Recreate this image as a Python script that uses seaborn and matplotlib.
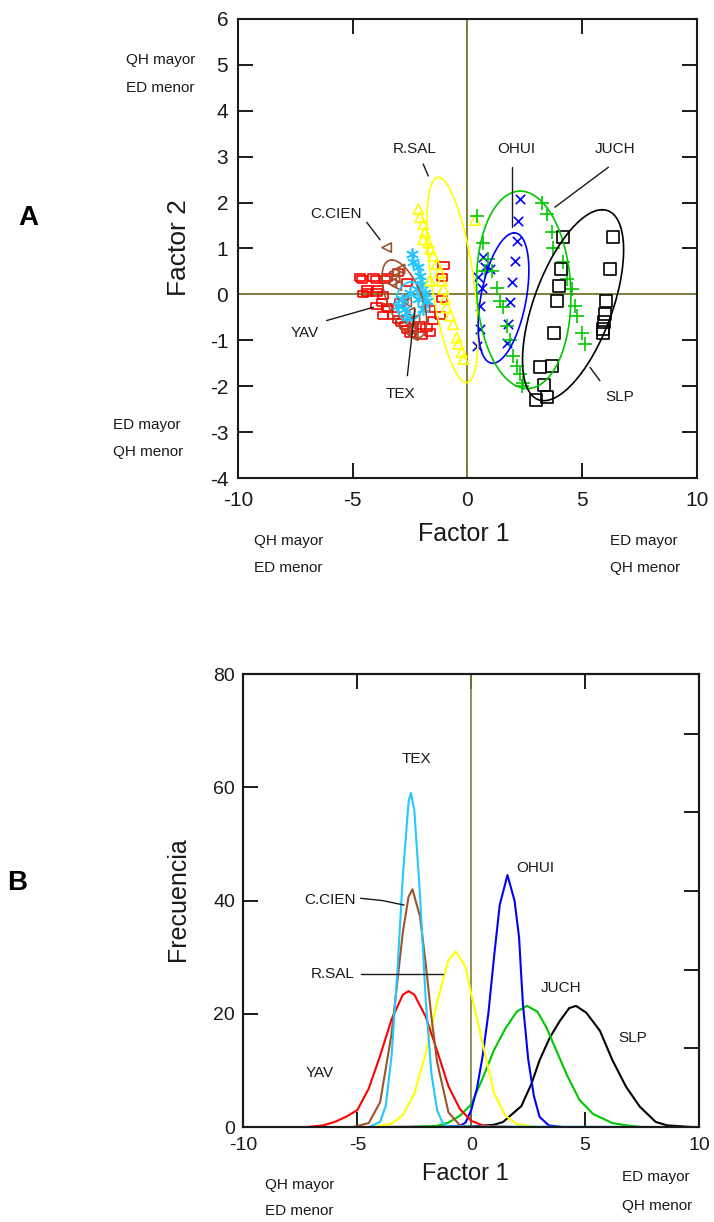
import numpy as np
import matplotlib
matplotlib.use('Agg')
import matplotlib.pyplot as plt
from matplotlib import font_manager as fm
import seaborn as sns


# ---- Panel A: factor scores per population (Factor 1, Factor 2) ----
yav_x = [-4.68, -4.39, -3.96, -3.89, -3.52, -4.54, -3.67, -3.96, -3.52, -3.23, -2.87, -2.65, -2.94,
         -4.61, -4.10, -3.59, -4.39, -3.96, -3.74, -3.45, -3.67, -3.02, -2.72, -2.36, -2.07, -1.78,
         -1.49, -1.20, -1.12, -1.05, -1.12, -1.63, -1.63, -2.00, -2.51, -3.02, -2.65]
yav_y = [0.37, 0.12, 0.33, 0.12, 0.37, 0.01, -0.03, -0.25, -0.29, -0.46, -0.61, -0.76, -0.17,
         0.33, 0.37, 0.33, 0.04, 0.04, -0.17, -0.32, -0.46, -0.54, -0.68, -0.72, -0.68, -0.72,
         -0.57, -0.46, -0.10, 0.63, 0.37, -0.32, -0.83, -0.90, -0.86, 0.48, 0.26]

cien_x = [-3.52, -3.16, -3.08, -2.94, -3.20, -2.65, -2.51, -2.29, -2.43, -2.36, -2.80, -1.85, -3.30, -2.60]
cien_y = [1.02, 0.37, 0.19, 0.55, 0.48, -0.17, -0.39, -0.54, -0.76, -0.90, -0.10, -0.28, 0.25, -0.60]

tex_x = [-2.43, -2.36, -2.14, -2.07, -2.00, -2.21, -1.85, -1.78, -2.87, -2.72, -2.65, -1.93, -2.14, -3.02, -2.51]
tex_y = [0.88, 0.70, 0.59, 0.41, 0.22, 0.12, 0.04, -0.14, -0.10, -0.32, -0.50, -0.32, -0.10, -0.25, 0.04]

rsal_x = [-2.14, -2.07, -1.93, -1.85, -1.93, -1.71, -1.63, -1.49, -1.34, -1.20, -1.12, -1.05, -0.98,
          -0.91, -0.76, -0.62, -0.47, -0.40, -0.25, -0.18, -1.63, 0.33]
rsal_y = [1.86, 1.68, 1.53, 1.35, 1.20, 1.13, 0.99, 0.84, 0.66, 0.48, 0.30, 0.12, -0.10,
          -0.28, -0.46, -0.65, -0.94, -1.08, -1.26, -1.41, 0.30, 1.62]

ohui_x = [2.29, 2.21, 2.14, 2.07, 1.93, 1.85, 1.78, 1.71, 0.76, 0.62, 0.54, 0.54, 0.40, 0.98, 0.46, 0.68]
ohui_y = [2.08, 1.60, 1.17, 0.73, 0.26, -0.17, -0.65, -1.05, 0.59, 0.15, -0.25, -0.76, -1.12, 0.55, 0.37, 0.81]

juch_x = [3.23, 3.45, 3.67, 3.74, 4.18, 4.32, 4.54, 4.68, 4.76, 4.98, 5.12, 0.69, 0.91, 1.05, 1.27,
          1.42, 1.56, 1.71, 2.00, 2.14, 2.29, 2.43, 2.36, 0.40, 0.76, 1.85]
juch_y = [2.00, 1.75, 1.35, 1.02, 0.70, 0.33, 0.12, -0.25, -0.46, -0.83, -1.08, 1.13, 0.77, 0.52, 0.15,
          -0.14, -0.28, -0.68, -1.34, -1.55, -1.74, -1.92, -1.99, 1.71, 0.52, -1.00]

slp_x = [4.17, 6.33, 6.21, 4.06, 4.00, 3.91, 6.04, 6.00, 5.96, 5.92, 3.77, 3.16, 3.67, 3.33, 3.48, 2.97, 5.90]
slp_y = [1.24, 1.24, 0.55, 0.55, 0.19, -0.15, -0.15, -0.43, -0.60, -0.76, -0.85, -1.59, -1.55, -1.97,
         -2.24, -2.29, -0.83]

# ellipses: centre, offset to the topmost point, half width on the horizontal through the centre
ell_names = ['C.CIEN', 'TEX', 'R.SAL', 'OHUI', 'JUCH', 'SLP']
ell_cx = [-2.75, -2.50, -0.655, 1.57, 2.45, 4.60]
ell_cy = [-0.10, -0.15, 0.315, -0.08, 0.10, -0.235]
ell_ux = [-0.55, 0.05, -0.615, 0.47, -0.15, 1.27]
ell_uy = [0.85, 0.42, 2.235, 1.42, 2.15, 2.08]
ell_w = [0.80, 0.62, 0.93, 1.00, 2.05, 1.80]

# ---- Panel B: frequency curves along Factor 1 ----
yav_fx = [-7.2, -6.5, -6.0, -5.5, -5.0, -4.5, -4.0, -3.5, -3.0, -2.75, -2.5, -2.0, -1.5, -1.0, -0.5, 0.0, 0.5, 1.0, 1.8]
yav_fy = [0, 0.3, 0.9, 1.8, 3.0, 6.8, 12.6, 19.0, 23.4, 24.0, 23.4, 19.5, 13.5, 7.2, 3.2, 1.1, 0.3, 0.1, 0]

cien_fx = [-5.2, -4.5, -4.0, -3.5, -3.25, -3.0, -2.75, -2.58, -2.25, -2.0, -1.75, -1.5, -1.0, -0.5, 0.0]
cien_fy = [0, 0.7, 4.4, 16.4, 25.5, 34.5, 40.7, 42.0, 37.2, 28.9, 19.5, 11.5, 2.6, 0.3, 0]

tex_fx = [-10, -4.5, -4.0, -3.75, -3.5, -3.25, -3.0, -2.75, -2.65, -2.5, -2.25, -2.0, -1.75, -1.5, -1.25, -1.0, 10]
tex_fy = [0, 0, 0.9, 3.8, 12.5, 27.0, 44.5, 57.5, 59.0, 56.0, 41.0, 22.5, 9.5, 3.0, 0.7, 0.1, 0]

rsal_fx = [-4.3, -3.5, -3.0, -2.5, -2.0, -1.5, -1.0, -0.68, -0.25, 0.0, 0.5, 1.0, 1.5, 2.0, 2.86]
rsal_fy = [0, 0.6, 2.1, 5.9, 13.0, 22.1, 29.5, 31.0, 28.3, 23.5, 14.8, 6.0, 2.0, 0.5, 0]

ohui_fx = [-1.3, -0.5, -0.25, 0.0, 0.25, 0.5, 0.75, 1.0, 1.25, 1.59, 1.9, 2.1, 2.2, 2.27, 2.5, 2.75, 3.0, 3.4, 4.0]
ohui_fy = [0, 0.2, 0.8, 3.0, 6.8, 12.5, 20.0, 30.0, 39.2, 44.5, 40.0, 33.5, 26.4, 21.7, 12.0, 5.5, 1.8, 0.3, 0]

juch_fx = [-2.7, -1.5, -1.0, -0.5, 0.0, 0.5, 1.0, 1.5, 2.0, 2.45, 2.9, 3.3, 3.75, 4.2, 4.75, 5.35, 6.2, 6.8, 7.5]
juch_fy = [0, 0.2, 0.8, 2.0, 4.0, 8.6, 13.6, 17.4, 20.4, 21.4, 20.4, 17.6, 13.4, 9.2, 4.8, 2.3, 0.7, 0.3, 0]

slp_fx = [-4.45, 0.0, 1.0, 1.4, 2.2, 2.65, 3.0, 3.45, 3.9, 4.3, 4.6, 5.05, 5.65, 6.2, 6.8, 7.4, 8.1, 8.6, 9.7]
slp_fy = [0, 0.1, 0.4, 0.9, 3.7, 7.7, 11.8, 15.8, 18.8, 21.0, 21.4, 20.2, 17.0, 11.8, 7.1, 3.6, 0.9, 0.3, 0]

# secondary (unlabelled) scale on the right of panel B, in frequency units per tick
right_step = 13.9

colors = {'YAV': '#ff0000', 'C.CIEN': '#a0522d', 'TEX': '#22c8ff', 'R.SAL': '#ffff00',
          'OHUI': '#0000ff', 'JUCH': '#00c800', 'SLP': '#000000'}
olive = '#808040'
ink = '#1a1a1a'


def has_font(name):
    try:
        fm.findfont(fm.FontProperties(family=name), fallback_to_default=False)
        return True
    except ValueError:
        return False


sns.set_style('ticks')
plt.rcParams['font.family'] = ['Liberation Sans', 'DejaVu Sans']
plt.rcParams['axes.unicode_minus'] = False
narrow = 'Liberation Sans Narrow' if has_font('Liberation Sans Narrow') else 'Liberation Sans'
lab_size = 13 if narrow == 'Liberation Sans Narrow' else 11

fig = plt.figure(figsize=(7.14, 12.22), dpi=100)
ax1 = fig.add_axes([0.3333, 0.6088, 0.6429, 0.3757])
ax2 = fig.add_axes([0.3410, 0.0777, 0.6380, 0.3707])

# ---------------- Panel A ----------------
ax1.axvline(0, color=olive, lw=1.4, zorder=1)
ax1.axhline(0, color=olive, lw=1.4, zorder=1)

rect = [(-1, -0.65), (1, -0.65), (1, 0.65), (-1, 0.65), (-1, -0.65)]
star = (6, 2, 0)
scatter_groups = [
    ('YAV', yav_x, yav_y, rect, 55, True),
    ('C.CIEN', cien_x, cien_y, '<', 45, True),
    ('TEX', tex_x, tex_y, star, 70, False),
    ('R.SAL', rsal_x, rsal_y, '^', 55, True),
    ('OHUI', ohui_x, ohui_y, 'x', 45, False),
    ('JUCH', juch_x, juch_y, '+', 95, False),
    ('SLP', slp_x, slp_y, 's', 75, True),
]
for name, gx, gy, mk, sz, open_marker in scatter_groups:
    c = colors[name]
    if open_marker:
        sns.scatterplot(x=gx, y=gy, marker=mk, s=sz, color=c, facecolor='none', edgecolor=c,
                        linewidth=1.2, ax=ax1, zorder=3)
    else:
        sns.scatterplot(x=gx, y=gy, marker=mk, s=sz, color=c, linewidth=1.2, ax=ax1, zorder=3)

# confidence ellipses
t = np.linspace(0, 2 * np.pi, 241)
for name, cx, cy, ux, uy, w in zip(ell_names, ell_cx, ell_cy, ell_ux, ell_uy, ell_w):
    ex = cx + ux * np.cos(t) + w * np.sin(t)
    ey = cy + uy * np.cos(t)
    sns.lineplot(x=ex, y=ey, sort=False, estimator=None, color=colors[name], lw=1.2, ax=ax1, zorder=4)

# group labels with leader lines
a_labels = [('R.SAL', -2.29, 3.16, [-1.93, -1.71], [2.84, 2.58]),
            ('C.CIEN', -5.73, 1.76, [-4.39, -3.81], [1.57, 1.19]),
            ('YAV', -7.08, -0.83, [-6.14, -4.10], [-0.57, -0.28]),
            ('TEX', -2.94, -2.17, [-2.62, -2.29], [-1.77, -0.32]),
            ('OHUI', 2.14, 3.17, [1.93, 1.93], [2.77, 1.46]),
            ('JUCH', 6.43, 3.17, [6.14, 3.81], [2.77, 1.90]),
            ('SLP', 6.65, -2.24, [5.77, 5.34], [-1.88, -1.59])]
for txt, tx, ty, lx, ly in a_labels:
    ax1.text(tx, ty, txt, ha='center', va='center', fontsize=lab_size, family=narrow, color=ink)
    ax1.plot(lx, ly, color=ink, lw=1.0, zorder=5)

ax1.set_xlim(-10, 10)
ax1.set_ylim(-4, 6)
ax1.set_xticks([-10, -5, 0, 5, 10])
ax1.set_yticks(range(-4, 7))
ax1.set_xlabel('')
ax1.set_ylabel('')
ax1.tick_params(axis='both', direction='in', length=11, width=1.4, top=True, right=True,
                labelsize=15, labelcolor=ink, color=ink)
ax1.tick_params(axis='x', pad=9)
ax1.tick_params(axis='y', pad=7)

# ---------------- Panel B ----------------
ax2.axvline(0, color=olive, lw=1.2, zorder=1)
curves = [('SLP', slp_fx, slp_fy), ('JUCH', juch_fx, juch_fy), ('OHUI', ohui_fx, ohui_fy),
          ('R.SAL', rsal_fx, rsal_fy), ('YAV', yav_fx, yav_fy), ('C.CIEN', cien_fx, cien_fy),
          ('TEX', tex_fx, tex_fy)]
for name, fx, fy in curves:
    sns.lineplot(x=fx, y=fy, sort=False, estimator=None, color=colors[name], lw=1.5, ax=ax2, zorder=3)

b_labels = [('TEX', -2.4, 65.0), ('C.CIEN', -6.2, 40.1), ('R.SAL', -6.09, 27.1), ('YAV', -6.64, 9.5),
            ('OHUI', 2.82, 45.8), ('JUCH', 3.96, 24.6), ('SLP', 7.1, 15.7)]
for txt, tx, ty in b_labels:
    ax2.text(tx, ty, txt, ha='center', va='center', fontsize=lab_size, family=narrow, color=ink)
ax2.plot([-4.86, -3.9, -2.95], [40.4, 40.0, 39.2], color=ink, lw=1.0, zorder=5)
ax2.plot([-4.86, -1.24], [27.1, 27.1], color=ink, lw=1.0, zorder=5)

ax2.set_xlim(-10, 10)
ax2.set_ylim(0, 80)
ax2.set_xticks([-10, -5, 0, 5, 10])
ax2.set_yticks([0, 20, 40, 60, 80])
ax2.tick_params(axis='both', direction='in', length=11, width=1.4, top=True, right=False,
                labelsize=14, labelcolor=ink, color=ink)
ax2.tick_params(axis='x', pad=7)
ax2.tick_params(axis='y', pad=6)

ax2r = ax2.twinx()
ax2r.set_ylim(0, 80 / right_step)
ax2r.set_yticks([1, 2, 3, 4, 5])
ax2r.tick_params(axis='y', direction='in', length=11, width=1.4, labelright=False, color=ink)

for ax in (ax1, ax2, ax2r):
    for sp in ax.spines.values():
        sp.set_linewidth(1.5)
        sp.set_color(ink)

# ---------------- axis titles and side notes ----------------
W, H = 714.0, 1222.0


def ftext(px, py, s, **kw):
    fig.text(px / W, 1 - py / H, s, **kw)


ftext(179, 248, 'Factor 2', rotation=90, ha='center', va='center', fontsize=19, color=ink)
ftext(464, 534, 'Factor 1', ha='center', va='center', fontsize=18, color=ink)
ftext(178, 899, 'Frecuencia', rotation=90, ha='center', va='center', fontsize=18, color=ink)
ftext(465, 1174, 'Factor 1', ha='center', va='center', fontsize=17, color=ink)

ftext(28, 218, 'A', ha='center', va='center', fontsize=20, fontweight='bold', color='black')
ftext(17, 883, 'B', ha='center', va='center', fontsize=20, fontweight='bold', color='black')

notes = [(126, 60, 'QH mayor'), (126, 88, 'ED menor'),
         (113, 425, 'ED mayor'), (113, 452, 'QH menor'),
         (254, 541, 'QH mayor'), (254, 568, 'ED menor'),
         (610, 541, 'ED mayor'), (610, 568, 'QH menor'),
         (265, 1185, 'QH mayor'), (265, 1211, 'ED menor'),
         (622, 1177, 'ED mayor'), (622, 1206, 'QH menor')]
for px, py, s in notes:
    ftext(px, py, s, ha='left', va='center', fontsize=11, family=narrow, color=ink)

fig.savefig('out.png', dpi=100, facecolor='white')
